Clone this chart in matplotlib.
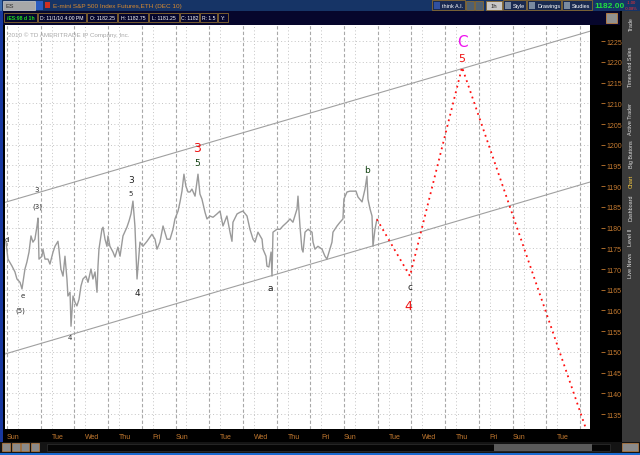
import matplotlib
matplotlib.use('Agg')
import matplotlib.pyplot as plt
from matplotlib.patches import Rectangle

# hourly ES path: hours from first session open, price
hours = [-0.7, 0.7, 3.6, 5.7, 7.1, 9.3, 10.7, 12.8, 14.2, 15.7, 17.1, 18.5, 19.9, 21.4, 22.1, 22.8,
         24.9, 25.6, 27.1, 29.2, 30.6, 32.8, 34.2, 36.3, 37.0, 38.4, 39.9, 41.3, 42.7, 43.4, 44.9, 45.6,
         47.0, 48.4, 49.8, 51.3, 52.7, 54.1, 56.2, 57.7, 59.8, 61.2, 62.7, 64.1, 64.8, 65.5, 67.6, 68.4,
         69.8, 71.2, 71.9, 73.3, 75.5, 76.9, 79.0, 80.5, 82.6, 85.4, 86.9, 88.3, 89.7, 91.1, 92.6, 94.7,
         96.8, 99.7, 103.2, 105.4, 106.8, 108.9, 111.1, 113.9, 116.1, 118.2, 119.6, 121.8, 123.2, 124.6,
         126.0, 127.4, 128.9, 130.3, 131.7, 133.9, 135.3, 136.0, 137.4, 138.8, 141.0, 142.4, 144.5, 146.7,
         149.5, 151.7, 153.8, 156.6, 158.8, 160.2, 160.9, 163.8, 165.9, 168.0, 170.9, 173.0, 175.2, 176.6,
         178.7, 181.6, 182.3, 184.4, 185.1, 186.5, 188.0, 188.7, 189.4, 192.2, 194.4, 196.5, 199.4, 201.5,
         203.6, 206.5, 207.2, 208.6, 210.0, 210.8, 212.2, 214.3, 217.2, 217.9, 219.3, 221.4, 224.3, 226.4,
         227.8, 229.9, 231.4, 232.1, 235.0, 237.1, 239.2, 239.9, 242.1, 244.2, 246.4, 248.5, 249.9, 252.8,
         254.9, 256.3, 257.0, 258.5, 259.9, 260.6, 262.0, 263.4]
prices = [1176.5, 1172.4, 1170.7, 1169.3, 1167.6, 1166.8, 1165.2, 1170.0, 1171.7, 1174.1, 1178.0, 1176.5,
          1177.2, 1180.4, 1182.3, 1172.4, 1173.1, 1174.8, 1172.4, 1172.4, 1171.2, 1174.1, 1175.5, 1176.7,
          1174.8, 1170.0, 1168.3, 1173.1, 1167.6, 1163.5, 1164.4, 1156.2, 1163.5, 1162.0, 1161.1, 1162.7,
          1165.9, 1167.6, 1168.3, 1166.8, 1170.0, 1167.6, 1169.3, 1164.4, 1170.7, 1174.8, 1179.6, 1180.1,
          1177.2, 1175.5, 1178.0, 1175.5, 1174.1, 1172.9, 1175.3, 1173.1, 1178.0, 1180.1, 1181.6, 1183.3,
          1186.4, 1180.4, 1167.6, 1176.5, 1175.5, 1176.7, 1178.4, 1177.2, 1174.8, 1176.5, 1180.4, 1177.2,
          1177.2, 1179.6, 1182.1, 1184.0, 1186.2, 1188.8, 1192.9, 1190.0, 1188.6, 1188.6, 1189.3, 1187.6,
          1191.2, 1192.9, 1188.1, 1186.9, 1183.7, 1182.1, 1182.8, 1182.5, 1183.3, 1184.0, 1180.4, 1182.8,
          1178.9, 1176.7, 1181.3, 1183.3, 1183.7, 1184.0, 1182.8, 1179.6, 1177.2, 1176.5, 1178.9, 1177.2,
          1174.8, 1173.1, 1170.7, 1170.5, 1174.1, 1168.3, 1178.9, 1179.6, 1179.6, 1180.4, 1181.3, 1182.1,
          1181.3, 1184.5, 1187.6, 1180.4, 1174.8, 1174.1, 1178.9, 1179.6, 1178.9, 1176.5, 1174.8, 1175.5,
          1174.8, 1173.1, 1172.4, 1174.8, 1176.5, 1178.9, 1180.4, 1181.3, 1182.1, 1186.9, 1188.6, 1188.8,
          1188.8, 1188.8, 1187.4, 1186.2, 1189.3, 1192.4, 1186.9, 1184.5, 1182.8, 1175.5, 1179.6, 1182.0]

# projected wave path
proj_hours = [263.4, 286.9, 324.0, 413.7]
proj_prices = [1182.0, 1168.3, 1218.7, 1130.0]

# trend channel
chan_hours = [-1.4, 415.1]
chan_upper = [1186.1, 1227.4]
chan_lower = [1149.5, 1191.0]

# wave labels
label_text = ['d', 'e', '(5)', '3', '(3)', '4', '3', '5', '4', '3', '5', 'a', 'b', 'c', '4', '5', 'C']
label_hour = [0.2, 11.4, 9.3, 21.4, 21.4, 44.9, 88.3, 88.3, 92.6, 135.3, 135.3, 187.3, 256.3, 286.9,
              285.5, 324.0, 324.0]
label_price = [1177.2, 1163.7, 1160.3, 1189.3, 1185.2, 1153.6, 1191.7, 1188.3, 1164.4, 1199.4, 1195.8,
               1165.6, 1194.1, 1165.9, 1161.1, 1220.9, 1225.0]
label_kind = ['s', 's', 's', 's', 's', 's', 'm', 's', 'm', 'r', 'g', 'm', 'g', 'm', 'r', 'r5', 'C']

price_ticks = list(range(1135, 1226, 5))
day_names = ['Sun', 'Tue', 'Wed', 'Thu', 'Fri', 'Sun', 'Tue', 'Wed', 'Thu', 'Fri',
             'Sun', 'Tue', 'Wed', 'Thu', 'Fri', 'Sun', 'Tue']

styles = {
    's': dict(color='#303030', fontsize=5),
    'm': dict(color='#202020', fontsize=6.5),
    'g': dict(color='#104010', fontsize=6.5),
    'r': dict(color='#ee1111', fontsize=9),
    'r5': dict(color='#ee1111', fontsize=8),
    'C': dict(color='#ee11ee', fontsize=11),
}

ORANGE = '#c47a30'
NARROW = ['Liberation Sans Narrow', 'Liberation Sans', 'DejaVu Sans']

fig = plt.figure(figsize=(6.4, 4.56), dpi=100, facecolor='black')
W, H = 640.0, 456.0


def box(x0, y0, x1, y1, fc, ec='none', lw=0.8):
    fig.add_artist(Rectangle((x0 / W, 1 - y1 / H), (x1 - x0) / W, (y1 - y0) / H,
                             facecolor=fc, edgecolor=ec, lw=lw, transform=fig.transFigure))


def txt(x, y, s, color='white', size=5, ha='left', va='center', rot=0, weight='normal'):
    fig.text(x / W, 1 - y / H, s, color=color, fontsize=size, ha=ha, va=va, rotation=rot,
             family=NARROW, fontweight=weight)


# main chart
ax = fig.add_axes([5 / W, 1 - 430 / H, 585 / W, 404 / H])
ax.set_facecolor('white')
ax.set_xlim(-1.4, 415.1)
ax.set_ylim(1131.4, 1228.9)

for k in range(18):
    ax.axvline(24 * k, color='#a8a8a8', lw=0.8, ls=(0, (3, 2)), zorder=1)
    ax.axvline(24 * k + 7.8, color='#c4c4c4', lw=0.7, ls=(0, (1, 2.5)), zorder=1)
ax.set_yticks(price_ticks)
ax.grid(axis='y', color='#c4c4c4', lw=0.7, ls=(0, (1, 2.5)))

ax.plot(chan_hours, chan_upper, color='#a0a0a0', lw=0.8)
ax.plot(chan_hours, chan_lower, color='#a0a0a0', lw=0.8)
ax.plot(hours, prices, color='#9a9a9a', lw=1.0)
ax.plot(proj_hours, proj_prices, color='#ff1010', lw=1.3, ls=(0, (1, 2.2)))

for t, hx, py, kd in zip(label_text, label_hour, label_price, label_kind):
    ax.text(hx, py, t, ha='center', va='center', **styles[kd])

ax.text(0.005, 0.985, '2010 © TD AMERITRADE IP Company, Inc.', transform=ax.transAxes,
        color='#a8a8a8', fontsize=4.5, va='top', family=NARROW)

for sp in ax.spines.values():
    sp.set_visible(False)
ax.yaxis.tick_right()
ax.spines['right'].set_position(('outward', 8))
ax.tick_params(axis='y', colors=ORANGE, labelsize=5, length=3, pad=1, width=0.6)

pos = []
for k, name in enumerate(day_names):
    pos.append(24 * k if name == 'Sun' else 24 * k + 7.8)
ax.set_xticks(pos)
ax.set_xticklabels(day_names, ha='left')
ax.tick_params(axis='x', length=0, pad=3, labelsize=5, labelcolor=ORANGE)
for lab in ax.get_xticklabels() + ax.get_yticklabels():
    lab.set_family(NARROW)

# title bar
box(0, 0, 640, 12, '#163466')
box(0, 0, 2, 12, '#3a6ab0')
box(3, 2, 35, 11, '#a8a8a8', '#d0d0d0', 0.5)
txt(5, 6.5, 'ES', color='#303030', size=4.6)
box(36, 2, 43, 11, '#2a5cc0')
box(45, 3, 50, 9, '#d03020')
txt(53, 6.5, 'E-mini S&P 500 Index Futures,ETH (DEC 10)', color='#d88a30', size=4.6)

box(432, 1, 465, 11, '#1a2a50', '#8a6a30', 0.6)
box(434, 2.5, 440, 9.5, '#3050a0')
txt(442, 6.5, 'think A.I.', size=4.0)
box(466, 2, 474, 11, '#506070', '#8a6a30', 0.6)
box(475, 2, 483, 11, '#506070', '#8a6a30', 0.6)
box(486, 2, 502, 11, '#c8c8c8', '#8a6a30', 0.6)
txt(494, 6.5, '1h', color='#202020', size=4.2, ha='center')
for x0, x1, s in [(503, 526, 'Style'), (527, 561, 'Drawings'), (562, 592, 'Studies')]:
    box(x0, 1, x1, 11, '#1a2a50', '#8a6a30', 0.6)
    box(x0 + 2, 2.5, x0 + 8, 9.5, '#7a8aa0')
    txt(x0 + 10, 6.5, s, size=4.0)
txt(594, 6.5, '1182.00', color='#20e040', size=6.0, weight='bold')
txt(631, 3.3, '-1.00', color='#ff3030', size=3.0, ha='center')
txt(631, 8.8, '-0.08%', color='#ff3030', size=3.0, ha='center')

# info bar
box(0, 12, 620, 26, '#06062c')
box(0, 12, 3, 443, '#1838a0')
cells = [(4, 37, '/ES:98 d 1h', '#20e020'), (38, 86, 'D: 11/1/10 4:00 PM', 'white'),
         (87, 117, 'O: 1182.25', 'white'), (118, 148, 'H: 1182.75', 'white'),
         (149, 179, 'L: 1181.25', 'white'), (180, 199, 'C: 1182', 'white'),
         (200, 217, 'R: 1.5', 'white'), (218, 228, 'Y:', 'white')]
for x0, x1, s, c in cells:
    box(x0, 13.5, x1, 23, 'none', '#8a6a30', 0.6)
    txt((x0 + x1) / 2, 18.5, s, color=c, size=3.7, ha='center',
        weight='bold' if c != 'white' else 'normal')
box(606, 14, 617, 24, '#909090', '#c08040', 0.6)

# side tabs
box(622, 12, 640, 443, '#3a3a3a')
tabs = [(24, 'Trade'), (67, 'Times And Sales'), (119, 'Active Trader'), (154, 'Big Buttons'),
        (181, 'Chart'), (208, 'Dashboard'), (237, 'Level II'), (265, 'Live News')]
for yc, s in tabs:
    c = '#ffd040' if s == 'Chart' else '#e0e0e0'
    txt(631, yc, s, color=c, size=3.9, ha='center', rot=90)

# bottom bar
box(0, 443, 640, 456, '#141414')
for i in range(4):
    box(2 + i * 9.5, 444, 10 + i * 9.5, 452, '#8a8a8a', '#c08040', 0.5)
box(47, 445, 610, 452, '#050505', '#303030', 0.5)
box(494, 445, 592, 452, '#5a5a5a')
box(622, 444, 638, 452, '#8a8a8a', '#c08040', 0.5)
box(0, 454, 640, 456, '#1a6ad0')

fig.savefig('out.png', dpi=100, facecolor='black')
